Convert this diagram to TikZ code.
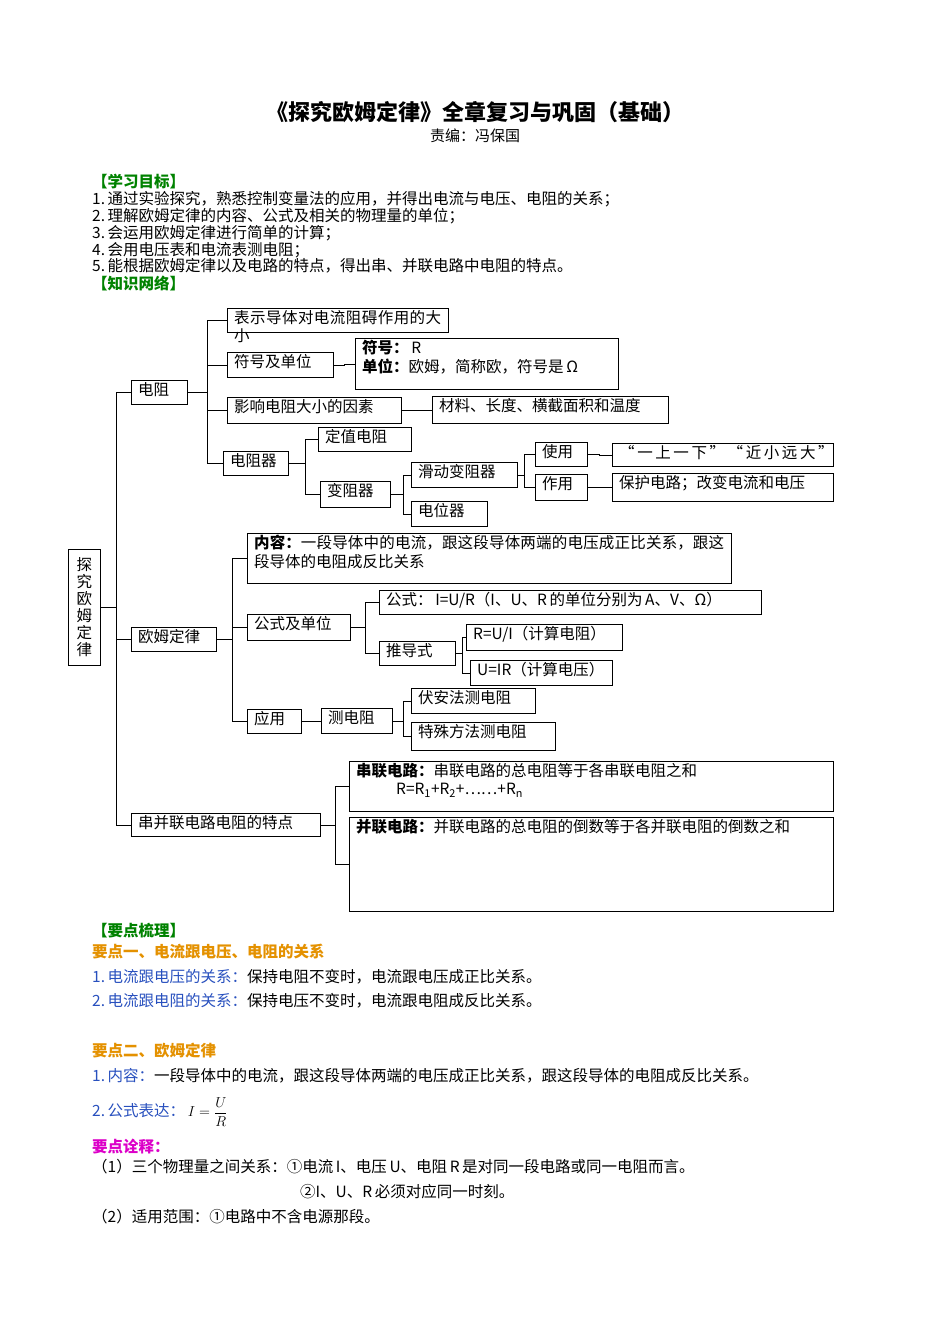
\documentclass[tikz,border=0pt]{standalone}
\usepackage{fontspec}
\setmainfont{Noto Sans CJK SC}
\XeTeXlinebreaklocale "zh"
\XeTeXlinebreakskip=0pt plus 1pt
\usetikzlibrary{positioning}
\definecolor{headgreen}{RGB}{0,130,0}
\definecolor{keyorange}{RGB}{228,145,0}
\definecolor{itemblue}{RGB}{40,80,190}
\definecolor{notemagenta}{RGB}{220,0,200}
% box: name, x1, y1, x2, y2, text
\newcommand{\bx}[6]{%
  \node[box, minimum width=#4-#2, minimum height=#5-#3] (#1) at (#2,#3) {};
  \node[boxtext, text width=#4-#2-14] at ([shift={(7,2)}]#1.north west) {#6};}
% elbow connector from parent to child
\newcommand{\lk}[3]{\draw[conn] (#2.east) -- ++(#1,0) |- (#3.west);}
\begin{document}
\begin{tikzpicture}[x=1pt,y=-1pt,
  box/.style={draw,thick,anchor=north west,inner sep=0pt},
  boxtext/.style={anchor=north west,inner sep=0pt,align=justify,
    font=\fontsize{15.5}{18.5}\selectfont},
  conn/.style={thick},
  txt/.style={anchor=west,inner sep=0pt,font=\fontsize{15.5}{18}\selectfont}]
\useasboundingbox (0,0) rectangle (950,1344);

% title
\node[font=\fontsize{22}{25}\selectfont\bfseries] (title) at (475,112) {《探究欧姆定律》全章复习与巩固（基础）};
\node[font=\fontsize{15}{17}\selectfont] (editor) at (475,136) {责编：冯保国};

% goals
\node[txt,text=headgreen,font=\fontsize{15.5}{18}\selectfont\bfseries] (goal) at (92,182) {【学习目标】};
\node[txt] (g1) at (92,199) {1.\,通过实验探究，熟悉控制变量法的应用，并得出电流与电压、电阻的关系；};
\node[txt] (g2) at (92,216) {2.\,理解欧姆定律的内容、公式及相关的物理量的单位；};
\node[txt] (g3) at (92,233) {3.\,会运用欧姆定律进行简单的计算；};
\node[txt] (g4) at (92,250) {4.\,会用电压表和电流表测电阻；};
\node[txt] (g5) at (92,266) {5.\,能根据欧姆定律以及电路的特点，得出串、并联电路中电阻的特点。};
\node[txt,text=headgreen,font=\fontsize{15.5}{18}\selectfont\bfseries] (net) at (92,283) {【知识网络】};

% tree
\node[box,minimum width=32,minimum height=116,align=center,
  font=\fontsize{15.5}{17}\selectfont] (root) at (68,549) {探\\究\\欧\\姆\\定\\律};
\bx{dz}{131}{380}{187}{404}{电阻}
\bx{dzdef}{227}{308}{448}{332}{表示导体对电流阻碍作用的大小}
\bx{fh}{227}{352}{333}{377}{符号及单位}
\bx{fhc}{355}{338}{618}{389}{\textbf{符号：}\,R\\\textbf{单位：}欧姆，简称欧，符号是\,Ω}
\bx{yx}{227}{397}{401}{423}{影响电阻大小的因素}
\bx{yxc}{432}{396}{668}{423}{材料、长度、横截面积和温度}
\bx{dzq}{223}{451}{288}{475}{电阻器}
\bx{dzz}{318}{427}{411}{451}{定值电阻}
\bx{bzq}{320}{481}{390}{507}{变阻器}
\bx{hd}{411}{462}{517}{487}{滑动变阻器}
\bx{dwq}{411}{501}{487}{526}{电位器}
\bx{sy}{535}{442}{587}{466}{使用}
\bx{syc}{612}{443}{833}{466}{“\,一\,上\,一\,下\,”\,“\,近\,小\,远\,大\,”}
\bx{zy}{535}{474}{587}{500}{作用}
\bx{zyc}{612}{473}{833}{501}{保护电路；改变电流和电压}

\bx{om}{131}{627}{216}{651}{欧姆定律}
\bx{nr}{247}{533}{731}{583}{\textbf{内容：}一段导体中的电流，跟这段导体两端的电压成正比关系，跟这段导体的电阻成反比关系}
\bx{gs}{247}{614}{350}{640}{公式及单位}
\bx{gsc}{379}{590}{761}{614}{公式：\,I=U/R（I、U、R\,的单位分别为\,A、V、Ω）}
\bx{tds}{379}{641}{455}{665}{推导式}
\bx{rui}{466}{624}{622}{650}{R=U/I（计算电阻）}
\bx{uir}{470}{660}{612}{685}{U=IR（计算电压）}
\bx{yy}{247}{709}{301}{733}{应用}
\bx{cdz}{321}{708}{392}{733}{测电阻}
\bx{fa}{411}{688}{535}{713}{伏安法测电阻}
\bx{ts}{411}{722}{555}{750}{特殊方法测电阻}

\bx{cb}{131}{813}{320}{836}{串并联电路电阻的特点}
\bx{cl}{349}{761}{833}{811}{\textbf{串联电路：}串联电路的总电阻等于各串联电阻之和\\\hspace*{40pt}R=R\textsubscript{1}+R\textsubscript{2}+……+R\textsubscript{n}}
\bx{bl}{349}{817}{833}{911}{\textbf{并联电路：}并联电路的总电阻的倒数等于各并联电阻的倒数之和}

\lk{16}{root}{dz} \lk{16}{root}{om} \lk{16}{root}{cb}
\lk{20}{dz}{dzdef} \lk{20}{dz}{fh} \lk{20}{dz}{yx} \lk{20}{dz}{dzq}
\lk{11}{fh}{fhc} \lk{15}{yx}{yxc}
\lk{17}{dzq}{dzz} \lk{17}{dzq}{bzq}
\lk{13}{bzq}{hd} \lk{13}{bzq}{dwq}
\lk{7}{hd}{sy} \lk{7}{hd}{zy}
\lk{12}{sy}{syc} \lk{12}{zy}{zyc}
\lk{16}{om}{nr} \lk{16}{om}{gs} \lk{16}{om}{yy}
\lk{15}{gs}{gsc} \lk{15}{gs}{tds}
\lk{7}{tds}{rui} \lk{7}{tds}{uir}
\lk{10}{yy}{cdz}
\lk{11}{cdz}{fa} \lk{11}{cdz}{ts}
\lk{15}{cb}{cl} \lk{15}{cb}{bl}

% key points
\node[txt,text=headgreen,font=\fontsize{15.5}{18}\selectfont\bfseries] (kp) at (92,931) {【要点梳理】};
\node[txt,text=keyorange,font=\fontsize{15.5}{18}\selectfont\bfseries] (kp1) at (92,952) {要点一、电流跟电压、电阻的关系};
\node[txt] (k11) at (92,977) {\textcolor{itemblue}{1.\,电流跟电压的关系：}保持电阻不变时，电流跟电压成正比关系。};
\node[txt] (k12) at (92,1001) {\textcolor{itemblue}{2.\,电流跟电阻的关系：}保持电压不变时，电流跟电阻成反比关系。};
\node[txt,text=keyorange,font=\fontsize{15.5}{18}\selectfont\bfseries] (kp2) at (92,1051) {要点二、欧姆定律};
\node[txt] (k21) at (92,1076) {\textcolor{itemblue}{1.\,内容：}一段导体中的电流，跟这段导体两端的电压成正比关系，跟这段导体的电阻成反比关系。};
\node[txt] (k22) at (92,1112) {\textcolor{itemblue}{2.\,公式表达：}\,$\displaystyle I=\frac{U}{R}$};
\node[txt,text=notemagenta,font=\fontsize{15.5}{18}\selectfont\bfseries] (note) at (92,1147) {要点诠释：};
\node[txt] (n1) at (92,1167) {（1）三个物理量之间关系：①电流\,I、电压\,U、电阻\,R\,是对同一段电路或同一电阻而言。};
\node[txt] (n2) at (300,1192) {②I、U、R\,必须对应同一时刻。};
\node[txt] (n3) at (92,1217) {（2）适用范围：①电路中不含电源那段。};
\end{tikzpicture}
\end{document}
